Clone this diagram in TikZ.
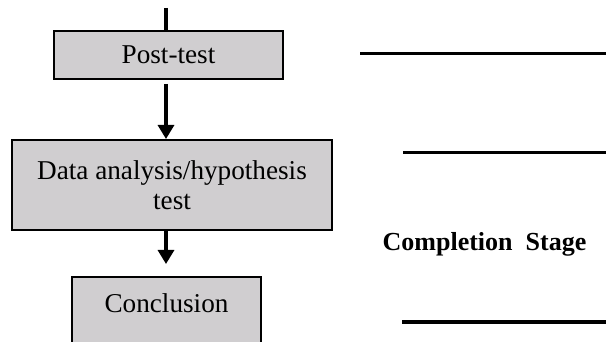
\documentclass[tikz,border=0pt]{standalone}
\usepackage{fontspec}
\setmainfont{Liberation Serif}
\usepackage{tikz}
\usetikzlibrary{arrows.meta}
\definecolor{boxgray}{RGB}{208,206,208}

\begin{document}
\begin{tikzpicture}[%
		x=0.5pt,y=-0.5pt,
		stagebox/.style={draw=black,line width=1pt,fill=boxgray,inner sep=0pt,
			align=center,font=\fontsize{13.6}{15}\selectfont},
		flow/.style={line width=1.6pt,-{Triangle[length=7pt,width=8pt]}},
		rule/.style={line width=1.5pt}]
		\useasboundingbox (0,0) rectangle (606,342);
		\node[stagebox,minimum width=114.5pt,minimum height=24pt] (post) at (168.5,55) {Post-test};
		\node[stagebox,minimum width=160pt,minimum height=45pt] (analysis) at (172,185) {Data analysis/hypothesis\\test};
		\node[stagebox,minimum width=94.5pt,text height=18pt,text depth=40pt,anchor=north] (concl) at (166.5,276) {Conclusion};
		\coordinate (entry) at (166,8);
		\draw[line width=1.8pt] (entry) -- (entry |- post.north);
		\draw[flow,shorten <=2pt] (post.south -| entry) -- (analysis.north -| entry);
		\draw[flow,shorten >=6pt] (analysis.south -| entry) -- (concl.north -| entry);
		\draw[rule] (360,54) -- (606,54);
		\draw[rule] (403,153) -- (606,153);
		\draw[rule] (402,322) -- (606,322);
		\node[anchor=base,font=\fontsize{13}{15}\selectfont\bfseries] (stage) at (484.5,250) {Completion\hspace{0.5em}Stage};
\end{tikzpicture}
\end{document}
